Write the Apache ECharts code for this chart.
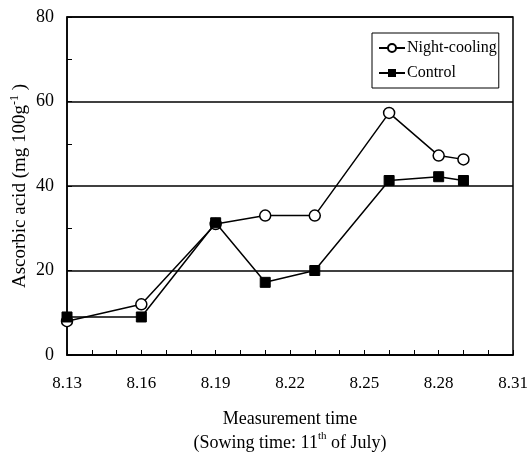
<!DOCTYPE html>
<html>
<head>
<meta charset="utf-8">
<script src="https://cdn.jsdelivr.net/npm/echarts@6/dist/echarts.min.js"></script>
<style>
  html, body { margin: 0; padding: 0; background: #fff; }
  #chart { width: 527px; height: 460px; }
</style>
</head>
<body>
<div id="chart"></div>
<script>
// measurement days in August
let days = [13, 16, 19, 21, 23, 26, 28, 29];
let nightCooling = [8, 12, 31, 33, 33, 57.3, 47.2, 46.3];
let control = [9, 9, 31.3, 17.2, 20, 41.3, 42.2, 41.3];
let xTicks = [13, 16, 19, 22, 25, 28, 31];
let yTicks = [0, 20, 40, 60, 80];

let font = 'Liberation Serif';

function pairs(ys){
  var res = [];
  for(let i=0; i<days.length; i++){
    res.push([days[i], ys[i]]);
  }
  return res;
}

const option = {
  animation: false,
  backgroundColor: '#fff',
  textStyle: { fontFamily: font, color: '#000' },
  grid: {
    left: 67, right: 14, top: 17, bottom: 105,
    outerBoundsMode: 'none',
    containLabel: false,
    show: true,
    borderColor: '#000',
    borderWidth: 1.5
  },
  legend: {
    left: 372, top: 33,
    orient: 'vertical',
    itemGap: 9,
    itemWidth: 26,
    itemHeight: 10,
    padding: [7, 2, 7, 6],
    borderColor: '#000',
    borderWidth: 1,
    textStyle: { fontFamily: font, fontSize: 16, color: '#000', padding: [0, 0, 0, -3] },
    data: ['Night-cooling', 'Control']
  },
  xAxis: {
    type: 'value',
    min: xTicks[0],
    max: xTicks[xTicks.length - 1],
    interval: 3,
    name: '{a|Measurement time}\n{a|(Sowing time: 11}{s|th}{a| of July)}',
    nameLocation: 'middle',
    nameGap: 52,
    nameMoveOverlap: false,
    nameTextStyle: {
      rich: {
        a: { fontFamily: font, fontSize: 18, color: '#000', lineHeight: 24 },
        s: { fontFamily: font, fontSize: 11, color: '#000', lineHeight: 24, padding: [0, 0, 13, 0] }
      }
    },
    axisLine: { lineStyle: { color: '#000', width: 1.5 } },
    axisTick: { inside: true, length: 5, lineStyle: { color: '#000' } },
    minorTick: { show: true, splitNumber: 3, length: 5, lineStyle: { color: '#000' } },
    splitLine: { show: false },
    axisLabel: {
      margin: 20,
      fontFamily: font,
      fontSize: 17,
      color: '#000',
      formatter: function(v){ return '8.' + v; }
    }
  },
  yAxis: {
    type: 'value',
    min: yTicks[0],
    max: yTicks[yTicks.length - 1],
    interval: 20,
    name: '{a|Ascorbic acid (mg 100g}{s|-1}{a| )}',
    nameLocation: 'middle',
    nameGap: 36,
    nameMoveOverlap: false,
    nameTextStyle: {
      rich: {
        a: { fontFamily: font, fontSize: 19, color: '#000', lineHeight: 22 },
        s: { fontFamily: font, fontSize: 12, color: '#000', lineHeight: 22, padding: [0, 0, 10, 0] }
      }
    },
    axisLine: { lineStyle: { color: '#000', width: 1.5 } },
    axisTick: { inside: true, length: 5, lineStyle: { color: '#000' } },
    minorTick: { show: true, splitNumber: 2, length: 5, lineStyle: { color: '#000' } },
    splitLine: { show: true, lineStyle: { color: '#000', width: 1.5 } },
    axisLabel: { margin: 13, fontFamily: font, fontSize: 18, color: '#000' }
  },
  series: [
    {
      name: 'Night-cooling',
      type: 'line',
      symbol: 'circle',
      symbolSize: 11,
      lineStyle: { color: '#000', width: 1.5 },
      itemStyle: { color: '#fff', borderColor: '#000', borderWidth: 1.5 },
      data: pairs(nightCooling)
    },
    {
      name: 'Control',
      type: 'line',
      symbol: 'rect',
      symbolSize: 10,
      lineStyle: { color: '#000', width: 1.5 },
      itemStyle: { color: '#000', borderColor: '#000' },
      data: pairs(control)
    }
  ]
};

var myChart = echarts.init(document.getElementById('chart'));
myChart.setOption(option);
</script>
</body>
</html>
